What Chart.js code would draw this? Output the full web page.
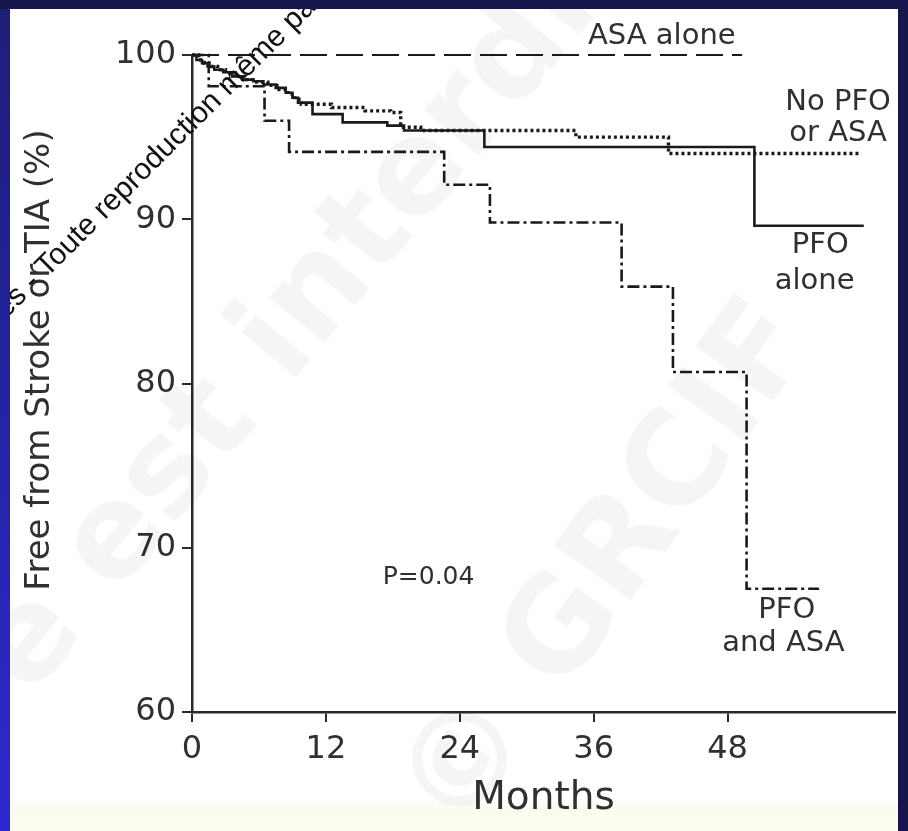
<!DOCTYPE html>
<html>
<head>
<meta charset="utf-8">
<script src="https://cdn.jsdelivr.net/npm/chart.js@4.4.1/dist/chart.umd.min.js"></script>
<style>
  html, body { margin: 0; padding: 0; }
  body { width: 908px; height: 831px; position: relative; overflow: hidden; background: #16164c; }
  #leftBand { position: absolute; left: 0; top: 9px; width: 10px; height: 822px;
    background: linear-gradient(to bottom, #1e1e78, #2a2ad0); }
  #wrap { position: absolute; left: 10px; top: 9px; width: 888px; height: 822px;
    background: linear-gradient(to bottom, #ffffff 0, #ffffff 790px, #fbfbee 800px, #fdfdf4 822px); }
</style>
</head>
<body>
<div id="leftBand"></div>
<div id="wrap"><canvas id="km"></canvas></div>
<script>
console.log('Loaded')

// x axis tick labels (months)
const monthTicks = [0, 12, 24, 36, 48];

// ASA alone: no events
const asaMonths = [0, 49.3];
const asaValues = [100, 100];

// PFO and ASA
const pfoAsaMonths = [0, 1.5, 6.5, 8.7, 22.6, 26.7, 38.5, 43.1, 49.7, 56.2];
const pfoAsaValues = [100, 98.1, 96.0, 94.1, 92.1, 89.8, 85.9, 80.7, 67.5, 67.5];

// PFO alone
const pfoMonths = [0, 0.4, 0.9, 1.4, 2.0, 2.8, 3.6, 4.5, 5.5, 6.4, 7.5, 8.4, 9.0, 9.5, 10.8, 13.5, 17.5, 19.0, 26.2, 50.4, 60.2];
const pfoValues = [100, 99.7, 99.5, 99.3, 99.1, 98.95, 98.7, 98.5, 98.4, 98.2, 98.0, 97.7, 97.4, 97.1, 96.4, 95.9, 95.7, 95.4, 94.4, 89.6, 89.6];

// No PFO or ASA
const noneMonths = [0, 0.6, 1.1, 1.7, 2.3, 3.0, 3.9, 4.8, 5.8, 6.8, 7.8, 8.6, 9.2, 9.8, 12.5, 15.5, 17.8, 18.7, 20.5, 34.4, 42.7, 60.0];
const noneValues = [100, 99.7, 99.5, 99.3, 99.1, 98.9, 98.7, 98.5, 98.35, 98.15, 97.9, 97.6, 97.3, 97.0, 96.8, 96.6, 96.5, 95.6, 95.4, 95.0, 94.0, 94.0];

const ink = '#1a1a1a';
const textInk = '#303030';

function pts(months, values) {
  return months.map((m, i) => ({x: m, y: values[i]}));
}

function curve(label, months, values, dash, width) {
  return {
    label: label,
    data: pts(months, values),
    showLine: true,
    stepped: true,
    borderColor: ink,
    borderWidth: width,
    borderDash: dash,
    borderCapStyle: 'butt',
    pointRadius: 0,
    pointHoverRadius: 0,
    clip: false
  };
}

// curve labels, placed in data units
const notes = [
  {text: 'ASA alone', x: 42.1, y: 101.1, size: 29},
  {text: 'No PFO', x: 57.9, y: 97.1, size: 29},
  {text: 'or ASA', x: 57.9, y: 95.25, size: 29},
  {text: 'PFO', x: 56.3, y: 88.4, size: 29},
  {text: 'alone', x: 55.8, y: 86.2, size: 29},
  {text: 'PFO', x: 53.3, y: 66.2, size: 29},
  {text: 'and ASA', x: 53.0, y: 64.2, size: 29},
  {text: 'P=0.04', x: 21.2, y: 68.2, size: 25}
];

const notesPlugin = {
  id: 'notes',
  beforeDatasetsDraw(chart) {
    // faint background stamp
    const ctx = chart.ctx;
    ctx.save();
    ctx.fillStyle = 'rgba(0,0,0,0.04)';
    ctx.font = 'bold 130px "DejaVu Sans"';
    ctx.translate(20, 690);
    ctx.rotate(-0.88);
    ctx.fillText('e est interdite', 0, 0);
    ctx.restore();
    ctx.save();
    ctx.fillStyle = 'rgba(0,0,0,0.04)';
    ctx.font = 'bold 130px "DejaVu Sans"';
    ctx.translate(450, 830);
    ctx.rotate(-0.95);
    ctx.fillText('© GRCIF', 0, 0);
    ctx.restore();
  },
  afterDatasetsDraw(chart) {
    const {ctx, scales: {x, y}} = chart;
    ctx.save();
    ctx.fillStyle = textInk;
    ctx.textAlign = 'center';
    ctx.textBaseline = 'middle';
    notes.forEach(n => {
      ctx.font = n.size + 'px "DejaVu Sans"';
      ctx.fillText(n.text, x.getPixelForValue(n.x), y.getPixelForValue(n.y));
    });
    // y axis title
    ctx.translate(30, 351);
    ctx.rotate(-Math.PI / 2);
    ctx.font = '34px "DejaVu Sans"';
    ctx.fillText('Free from Stroke or TIA (%)', 0, 0);
    ctx.restore();
  },
  afterDraw(chart) {
    // copyright stamp running across the top left
    const ctx = chart.ctx;
    ctx.save();
    ctx.fillStyle = '#111';
    ctx.font = '30px "Liberation Sans"';
    ctx.translate(24, 282);
    ctx.rotate(-0.785);
    ctx.textAlign = 'right';
    ctx.fillText('Tous droits réservés ', 0, 0);
    ctx.textAlign = 'left';
    ctx.fillText('- Toute reproduction même partielle interdite', 0, 0);
    ctx.restore();
  }
};

let kmCtx = document.getElementById('km').getContext('2d');

let km = new Chart(kmCtx, {
  type: 'scatter',
  data: {
    datasets: [
      curve('ASA alone', asaMonths, asaValues, [27, 9], 2.2),
      curve('PFO and ASA', pfoAsaMonths, pfoAsaValues, [12, 4, 3, 4], 2.6),
      curve('PFO alone', pfoMonths, pfoValues, [], 2.6),
      curve('No PFO or ASA', noneMonths, noneValues, [3, 3], 3.4)
    ]
  },
  options: {
    responsive: true,
    maintainAspectRatio: false,
    animation: false,
    layout: { padding: {top: 46, right: 3, left: 0, bottom: 0} },
    plugins: {
      legend: { display: false },
      tooltip: { enabled: false }
    },
    scales: {
      x: {
        type: 'linear',
        min: 0,
        max: 63,
        afterFit: s => { s.height = 119; },
        afterBuildTicks: s => { s.ticks = monthTicks.map(v => ({value: v})); },
        ticks: { color: textInk, font: {family: 'DejaVu Sans', size: 32}, padding: 8, maxRotation: 0, autoSkip: false },
        grid: { display: true, drawOnChartArea: false, drawTicks: true, tickLength: 10, color: '#2a2a2a', lineWidth: 2 },
        border: { display: true, color: '#2a2a2a', width: 2.5 },
        title: { display: true, text: 'Months', color: textInk, font: {family: 'DejaVu Sans', size: 39}, padding: {top: 0, bottom: 9} }
      },
      y: {
        min: 60,
        max: 100,
        afterFit: s => { s.width = 182; },
        ticks: { stepSize: 10, color: textInk, font: {family: 'DejaVu Sans', size: 32}, padding: 6 },
        grid: { display: true, drawOnChartArea: false, drawTicks: true, tickLength: 10, color: '#2a2a2a', lineWidth: 2 },
        border: { display: true, color: '#2a2a2a', width: 2.5 }
      }
    }
  },
  plugins: [notesPlugin]
})
</script>
</body>
</html>
